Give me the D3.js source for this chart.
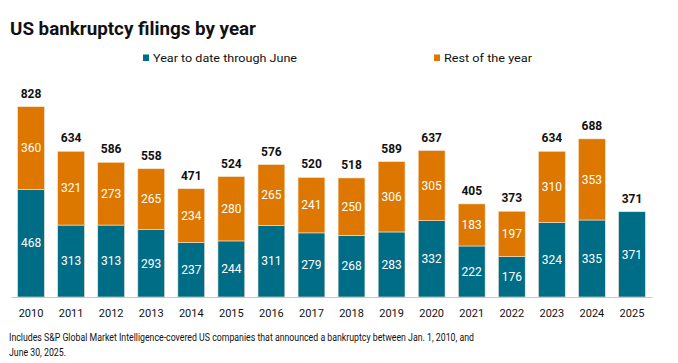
<!DOCTYPE html>
<html>
<head>
<meta charset="utf-8">
<script src="https://cdn.jsdelivr.net/npm/d3@7"></script>
<style>
  body { margin: 0; background: white; }
  text { font-family: Roboto, "Liberation Sans", sans-serif; }
</style>
</head>
<body>
<div id="chart"></div>
<script>
let years = ['2010','2011','2012','2013','2014','2015','2016','2017','2018','2019','2020','2021','2022','2023','2024','2025'];
let ytd = [468, 313, 313, 293, 237, 244, 311, 279, 268, 283, 332, 222, 176, 324, 335, 371];
let rest = [360, 321, 273, 265, 234, 280, 265, 241, 250, 306, 305, 183, 197, 310, 353, 0];
let totals = [828, 634, 586, 558, 471, 524, 576, 520, 518, 589, 637, 405, 373, 634, 688, 371];
let seriesNames = ['Year to date through June', 'Rest of the year'];
let colors = ['#006d87', '#dd7700'];

let width = 678, height = 363;
let margin = { top: 106.7, bottom: 66, left: 11, right: 26 };

let svg = d3.select('#chart')
  .append('svg')
  .attr('width', width)
  .attr('height', height)
  .style('background', 'white');

let data = years.map((y, i) => ({ year: y, ytd: ytd[i], rest: rest[i], total: totals[i] }));

let xscale = d3.scaleBand()
  .domain(years)
  .range([margin.left, width - margin.right])
  .paddingInner(0.33)
  .paddingOuter(0.165);

let yscale = d3.scaleLinear()
  .domain([0, 828])
  .range([height - margin.bottom, margin.top]);

let stack = d3.stack().keys(['ytd', 'rest'])(data);

let groups = svg.selectAll('g.series')
  .data(stack)
  .enter()
  .append('g')
  .attr('class', 'series')
  .attr('fill', (d, i) => colors[i]);

groups.selectAll('rect')
  .data(d => d.filter(p => p[1] > p[0]))
  .enter()
  .append('rect')
  .attr('x', d => xscale(d.data.year))
  .attr('y', d => yscale(d[1]))
  .attr('width', xscale.bandwidth())
  .attr('height', d => yscale(d[0]) - yscale(d[1]))
  .attr('stroke', '#f3e3d3')
  .attr('stroke-width', 0.6);

// white labels inside segments
groups.selectAll('text')
  .data(d => d.filter(p => p[1] > p[0]))
  .enter()
  .append('text')
  .attr('x', d => xscale(d.data.year) + xscale.bandwidth() / 2)
  .attr('y', d => (yscale(d[0]) + yscale(d[1])) / 2)
  .attr('dy', '0.35em')
  .attr('text-anchor', 'middle')
  .attr('fill', 'white')
  .style('font-size', '12px')
  .text(d => d[1] - d[0]);

// totals above bars
svg.selectAll('text.total')
  .data(data)
  .enter()
  .append('text')
  .attr('class', 'total')
  .attr('x', d => xscale(d.year) + xscale.bandwidth() / 2)
  .attr('y', d => yscale(d.total) - 9)
  .attr('text-anchor', 'middle')
  .attr('fill', '#111')
  .style('font-size', '12px')
  .style('font-weight', 'bold')
  .text(d => d.total);

// x axis
let xAxis = svg.append('g')
  .attr('transform', `translate(0, ${height - margin.bottom})`)
  .call(d3.axisBottom(xscale).tickSize(0).tickPadding(12));
xAxis.select('.domain').attr('stroke', '#c8c8c8').attr('stroke-width', 1.2);
xAxis.selectAll('text').style('font-size', '11px').attr('fill', '#111')
  .style('font-family', 'Roboto, "Liberation Sans", sans-serif');

// title
svg.append('text')
  .text('US bankruptcy filings by year')
  .attr('x', 10)
  .attr('y', 35)
  .attr('fill', '#111')
  .attr('textLength', 246)
  .attr('lengthAdjust', 'spacingAndGlyphs')
  .style('font-size', '17.5px')
  .style('font-weight', 'bold');

// legend
let legendX = [143, 434];
let legendW = [144, 88];
seriesNames.forEach((name, i) => {
  svg.append('rect')
    .attr('x', legendX[i])
    .attr('y', 54.5)
    .attr('width', 6)
    .attr('height', 6.5)
    .attr('fill', colors[i]);
  svg.append('text')
    .attr('x', legendX[i] + 10)
    .attr('y', 61.5)
    .attr('fill', '#111')
    .attr('textLength', legendW[i])
    .attr('lengthAdjust', 'spacingAndGlyphs')
    .style('font-size', '11.8px')
    .text(name);
});

// footnote
let notes = ['Includes S&P Global Market Intelligence-covered US companies that announced a bankruptcy between Jan. 1, 2010, and',
             'June 30, 2025.'];
let noteW = [465, 57];
notes.forEach((n, i) => {
  svg.append('text')
    .attr('x', 9)
    .attr('y', 341 + i * 14.5)
    .attr('fill', '#111')
    .attr('textLength', noteW[i])
    .attr('lengthAdjust', 'spacingAndGlyphs')
    .style('font-size', '10px')
    .text(n);
});
</script>
</body>
</html>
